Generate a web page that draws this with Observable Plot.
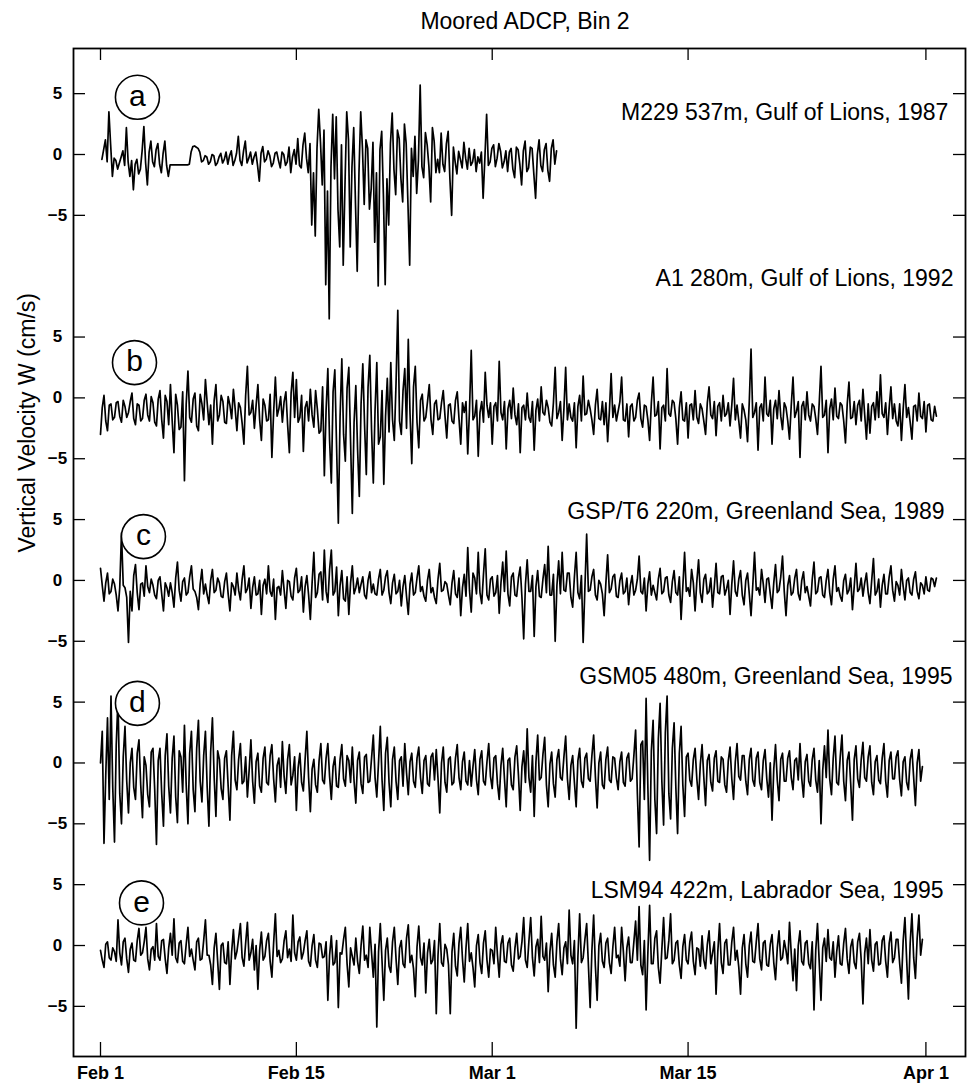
<!DOCTYPE html>
<html><head><meta charset="utf-8">
<script src="https://cdn.jsdelivr.net/npm/d3@7"></script>
<script src="https://cdn.jsdelivr.net/npm/@observablehq/plot@0.6"></script>
<style>
body{margin:0;background:#fff;font-family:"Liberation Sans",Arial,Helvetica,sans-serif;}
#title{height:37px;box-sizing:border-box;padding-top:8px;padding-left:83px;text-align:center;font-size:23px;line-height:26px;color:#000;}
#chart svg{display:block;}
</style></head><body>
<div id="title">Moored ADCP, Bin 2</div>
<div id="chart"></div>
<script>
// ---------- data ----------
const STEP = 0.125; // days between samples (3 h)
const panels = ["a", "b", "c", "d", "e"];
const stations = [
  "M229 537m, Gulf of Lions, 1987",
  "A1 280m, Gulf of Lions, 1992",
  "GSP/T6 220m, Greenland Sea, 1989",
  "GSM05 480m, Greenland Sea, 1995",
  "LSM94 422m, Labrador Sea, 1995"
];
const offsets = [65, 45, 30, 15, 0];      // vertical stacking of the panels (cm/s units)
const startDays = [0.1, 0, 0, 0, 0];      // days after Feb 1

// W (cm/s), one row = one day
const seriesA = [
  -0.4, 0.4, 1.2, -0.6, 3.5, 0.8, -1.8, -0.3,
  -0.5, -1.2, -0.7, -0.2, 0.3, -0.9, 2.2, -0.6,
  -1.8, -0.5, -2.9, -0.8, -0.4, -1.6, -1.2, 0.3,
  2.3, -0.7, -2.5, 0.2, 1.1, -0.6, -1.0, 0.4,
  0.9, -0.8, -1.5, 0.1, 1.1, -0.9, -1.8, -0.85,
  -0.85, -0.85, -0.85, -0.85, -0.85, -0.85, -0.85, -0.85,
  -0.85, -0.85, -0.8, 0.2, 0.65, 0.7, 0.6, 0.5,
  0.2, -0.6, -0.5, -0.1, -0.2, -0.8, -0.6, 0.0,
  -0.1, -0.9, -0.7, -0.2, 0.1, -0.7, -0.4, 0.2,
  -0.8, -0.1, 0.3, -0.9, -0.5, 0.1, 1.5, -0.5,
  -0.9, 0.3, 1.1, -0.7, -0.3, 0.2, -0.8, -0.2,
  0.2, -0.9, -2.2, 0.1, 0.65, -0.6, -0.4, 0.3,
  -0.1, -1.0, -0.7, 0.1, 0.2, -0.5, -1.1, 0.2,
  0.0, -0.9, -0.6, 0.6, -1.5, -0.2, 0.4, -0.8,
  1.3, -0.9, -1.1, 0.8, 1.75, -0.3, -1.5, 0.9,
  -5.8, -1.5, -6.7, 0.5, 3.7, 1.0, -2.5, 2.0,
  -10.7, -3.0, -13.5, -1.0, 3.3, -2.0, 3.1, -4.5,
  -7.6, 0.8, -9.1, -2.5, 3.5, 1.2, -7.6, -1.0,
  2.2, -4.0, -9.6, -1.5, 3.5, 0.5, -4.1, 1.2,
  0.5, -4.5, -2.8, 1.0, -7.2, -1.5, -10.8, 0.4,
  1.9, -3.5, -10.7, -2.0, -5.8, 0.9, 3.4, -1.2,
  -3.3, 2.0, 1.3, -2.0, -3.9, 2.5, 0.9, -4.0,
  -9.1, 0.5, -1.8, 1.5, -3.2, -0.5, 5.7, -1.0,
  -1.9, 1.8, 0.8, -1.0, -3.9, 2.2, 1.1, -1.5,
  -0.4, -1.5, 1.75, -0.8, -1.4, 0.9, 1.9, -2.0,
  -5.0, 0.6, -0.6, -1.6, 0.25, -0.4, -1.1, 1.0,
  -0.3, -1.2, 0.5, -0.9, -0.6, 0.4, -1.4, -0.2,
  -0.7, 0.2, -3.6, -0.3, 3.3, -0.9, -0.6, 0.5,
  0.8, -1.0, -0.3, 0.9, 0.25, -1.1, -0.6, 0.3,
  -1.4, 0.2, 0.5, -1.2, -1.9, 0.6, 0.4, -0.8,
  -2.5, 0.3, 1.1, -1.4, -1.1, 0.6, 0.5, -1.6,
  -3.6, 0.0, 1.2, -0.9, -1.4, 0.4, 0.9, -1.3,
  -2.2, 0.5, 1.2, -0.8, 0.3
];
const seriesB = [
  -3.0, -0.8, 0.2, -1.9, -2.7, -0.6, -0.5, -1.8,
  -1.6, -0.4, -0.3, -1.5, -2.0, -0.2, -0.7, -1.6,
  -1.2, -0.3, 0.4, -1.7, -2.2, -0.5, -0.6, -1.9,
  -1.7, -0.2, 0.3, -1.4, -1.9, 0.1, -0.4, -2.0,
  -2.3, -0.1, 0.6, -1.8, -3.3, 0.2, -0.3, -2.2,
  1.1, -1.9, -4.5, 0.3, -0.6, -2.6, -2.4, 0.5,
  -6.8, -0.5, 2.2, -1.6, -2.0, -0.1, 0.4, -2.3,
  -2.7, 0.3, -0.5, -1.8, 1.5, -0.4, -2.2, -0.6,
  -3.8, -0.2, 1.1, -1.9, -1.4, 0.2, -0.3, -2.0,
  -2.1, 0.1, -0.6, -1.7, 0.7, -0.9, -2.7, -0.4,
  -0.8, -2.1, -3.8, 0.2, 2.6, -1.4, -1.2, -0.2,
  -2.5, -0.6, 1.1, -1.8, -3.5, -0.1, -0.6, -1.9,
  -1.8, 0.3, -4.9, -1.2, 1.7, -1.5, -0.9, 0.1,
  -2.0, -0.3, 0.5, -2.2, -4.5, 0.4, 2.1, -1.6,
  1.5, -2.0, -1.6, 0.2, -4.4, -0.8, -0.3, -1.9,
  0.7, -1.4, -2.4, 0.6, -0.9, -2.9, -2.7, 0.9,
  -6.4, -1.0, 2.4, -3.5, -7.0, 0.5, 2.3, -4.0,
  -10.3, -1.5, 3.2, -3.0, -5.2, 0.8, 2.5, -3.6,
  -9.5, -2.0, 1.0, -4.2, -8.1, -0.5, 2.8, -2.2,
  -6.3, 0.9, 3.5, -2.6, -7.0, -1.0, 2.9, -3.8,
  -3.2, 0.6, -7.1, -1.5, 1.6, -2.8, 2.9, -1.8,
  -3.5, 1.2, 7.2, -1.9, -3.0, 0.6, 2.4, -2.5,
  4.8, -1.3, -5.4, 0.9, 2.6, -2.0, -4.1, -0.2,
  0.3, -1.9, -1.6, -0.3, 1.1, -1.8, -3.0, -0.5,
  -0.2, -1.8, -1.7, -0.4, 0.6, -1.5, -3.3, -0.6,
  -0.5, -1.9, -2.1, -0.2, 0.5, -1.7, -3.8, -0.4,
  -1.2, -0.3, -4.6, -1.0, 3.9, -1.8, -1.5, -0.2,
  -4.8, -1.2, -0.3, -2.0, 2.1, -0.6, -1.6, -0.4,
  -3.8, -0.7, -0.4, -1.9, 3.0, -1.2, -1.8, -0.3,
  -4.2, -0.9, -0.2, -1.7, 0.8, -1.4, -2.2, -0.5,
  -4.5, -0.8, -0.6, -1.8, 0.4, -1.6, -2.0, -0.3,
  -4.3, -1.0, -0.1, -1.9, 0.9, -1.2, -1.4, -0.2,
  -0.8, -2.0, -2.3, -0.4, 2.5, -1.7, -1.2, -0.3,
  -3.5, -0.9, 2.5, -1.8, -0.5, -1.6, -1.9, -0.4,
  -4.1, -0.7, 0.2, -1.9, 1.8, -1.4, -1.3, -0.2,
  -0.9, -1.8, -3.0, -0.6, 0.7, -1.7, -1.8, -0.3,
  -2.2, -0.4, -3.6, -1.1, 2.0, -1.6, -0.6, -1.9,
  -1.1, -0.3, 1.7, -1.8, -1.9, -0.5, -3.2, -0.7,
  -0.5, -1.9, -1.6, -0.2, 0.4, -1.7, -2.4, -0.6,
  -0.7, -1.8, -3.5, -0.4, 1.7, -1.5, -1.4, -0.3,
  -4.2, -0.8, -0.6, -1.9, 2.4, -1.3, -1.5, -0.2,
  -0.4, -1.7, -3.8, -0.8, 0.5, -1.8, -1.9, -0.4,
  -3.3, -0.6, -0.5, -1.8, 0.6, -1.6, -2.1, -0.5,
  -0.9, -1.9, -3.0, -0.4, 0.9, -1.4, -1.7, -0.3,
  -3.1, -0.7, -0.4, -1.9, 0.2, -1.5, -1.3, -0.4,
  -2.3, -0.6, 1.6, -1.8, -0.6, -1.9, -3.3, -0.5,
  -1.0, -1.8, -3.6, -0.3, 4.0, -1.6, -1.2, -0.4,
  -4.3, -0.8, -0.5, -1.9, 1.7, -1.3, -1.5, -0.2,
  -3.8, -0.9, -0.2, -1.7, 0.6, -1.5, -2.6, -0.4,
  -0.8, -1.9, -3.4, -0.6, 1.7, -1.6, -1.1, -0.3,
  -4.9, -0.7, -0.3, -1.8, 0.5, -1.4, -1.9, -0.5,
  -0.7, -1.7, -3.0, -0.4, 2.6, -1.6, -1.4, -0.2,
  -4.5, -0.9, -0.1, -1.8, 0.8, -1.5, -1.7, -0.4,
  -0.6, -1.9, -3.7, -0.5, 1.3, -1.7, -1.6, -0.3,
  -2.2, -0.6, -0.2, -1.9, 0.7, -1.4, -3.4, -0.5,
  -2.9, -0.7, -0.4, -1.8, 0.5, -1.6, 1.9, -1.3,
  -1.6, -0.4, -3.0, -0.8, 0.9, -1.7, -0.5, -1.9,
  -2.3, -0.5, -3.5, -0.9, 1.1, -1.6, -0.8, -2.0,
  -3.4, -0.7, -0.6, -1.9, 0.4, -1.5, -1.7, -0.3,
  -2.8, -0.6, -0.5, -1.8, -1.9, -0.7, -1.5
];
const seriesC = [
  1.0, -0.4, -1.7, -0.2, 0.6, -1.1, -0.9, 0.1,
  -0.3, -1.2, -2.5, -0.6, 3.9, -0.4, -0.6, -1.4,
  -5.1, -0.9, -2.5, 0.4, 1.3, -1.0, -2.4, -0.3,
  -0.2, -1.3, 1.2, -0.5, -1.0, 0.1, -0.4, -1.2,
  -1.5, 0.0, 0.3, -1.1, -2.5, -0.2, -0.6, -1.3,
  -0.2, -1.0, -2.2, 0.2, 1.5, -0.8, -1.7, -0.1,
  0.2, -1.2, -1.0, 0.3, 1.2, -0.7, -0.9, -1.4,
  -2.4, -0.3, 0.9, -1.1, -0.3, -1.2, -1.9, 0.0,
  0.9, -1.0, -0.8, 0.2, -0.2, -1.3, -1.4, -0.1,
  0.6, -1.1, -2.5, -0.2, -0.5, -1.2, 0.6, -0.8,
  -1.6, 0.1, 1.2, -1.0, -0.7, 0.2, -2.3, -0.6,
  0.3, -1.2, -1.1, 0.0, -2.8, -0.4, 0.1, -1.1,
  1.2, -0.9, -1.3, 0.1, -3.2, -0.6, -0.5, -1.2,
  0.8, -0.8, -2.3, 0.0, -0.1, -1.3, -1.6, 0.2,
  1.0, -1.0, -0.8, 0.3, -2.6, -0.5, 0.4, -1.2,
  -3.2, -0.2, 2.3, -1.4, -1.0, 0.5, 0.7, -1.6,
  2.5, -0.9, -1.8, 0.9, 2.5, -1.2, -0.9, 1.1,
  -2.9, -0.4, 0.8, -1.5, -1.7, 0.3, -2.8, -0.2,
  1.2, -1.1, -0.6, 0.2, -1.0, -0.3, 0.3, -1.2,
  -1.5, 0.0, 0.7, -1.0, -0.3, -1.1, -1.2, 0.1,
  0.9, -1.2, -0.8, 0.3, 0.8, -1.0, -1.9, -0.2,
  0.5, -1.1, -0.9, 0.0, -2.1, -0.5, 0.4, -1.3,
  -2.8, -0.3, 0.6, -1.2, -1.0, 0.2, 1.2, -0.9,
  -0.5, -1.3, -1.7, 0.0, 0.9, -1.0, -0.6, -1.4,
  -1.9, 0.1, 1.4, -0.9, -0.8, -0.1, -0.3, -1.2,
  -2.0, -0.2, 0.8, -1.1, -1.4, 0.2, -2.9, -0.6,
  0.5, -1.3, 2.7, -0.8, -2.6, 0.6, 0.2, -1.1,
  2.3, -1.0, -1.9, 0.5, 2.6, -1.2, -1.6, 0.1,
  0.3, -1.3, -1.0, 0.4, -2.7, -0.2, 1.5, -0.9,
  2.4, -1.1, -2.1, 0.3, 0.6, -1.2, -1.3, 0.2,
  1.1, -1.4, -4.8, -0.3, 1.7, -0.9, -0.9, 0.4,
  -4.6, -0.5, 0.8, -1.3, -1.4, 0.1, 1.3, -1.0,
  2.8, -1.2, -1.2, 0.5, -5.0, -0.4, 1.6, -1.1,
  2.3, -0.8, -0.9, 0.6, 0.6, -1.4, -2.2, 0.3,
  2.3, -1.0, -1.5, 0.4, -5.1, -0.6, 3.8, -0.9,
  -0.8, 0.3, 0.9, -1.2, -1.6, 0.0, -0.3, -1.1,
  -2.9, -0.2, 2.1, -1.0, -0.7, 0.3, 0.5, -1.3,
  -1.4, 0.0, 0.6, -1.1, -0.9, 0.2, -2.0, -0.4,
  0.4, -1.2, -0.8, 0.1, 2.0, -0.9, -1.1, 0.2,
  -2.5, -0.3, 0.7, -1.2, -0.4, -1.0, -1.6, 0.1,
  1.0, -1.1, -0.9, 0.2, 0.3, -1.2, -1.8, -0.1,
  0.8, -1.0, -1.2, 0.3, -3.2, -0.5, 2.3, -0.9,
  -0.6, -1.3, 0.9, -0.2, -2.5, -0.1, 1.7, -1.0,
  -1.8, 0.1, 0.5, -1.1, -0.9, 0.2, -2.2, -0.5,
  1.4, -1.0, -1.1, 0.3, 0.4, -1.2, -0.7, 0.0,
  -2.8, -0.3, 1.6, -0.9, -1.3, 0.1, 0.8, -1.2,
  -2.0, 0.0, 0.6, -1.1, -2.9, -0.4, 2.3, -0.8,
  -0.6, -1.2, 0.9, -0.3, -1.8, 0.1, 0.2, -1.1,
  -2.3, -0.2, 1.3, -1.0, -0.8, 0.3, 2.0, -0.9,
  -2.9, -0.4, 0.4, -1.2, -1.0, 0.2, 0.9, -1.1,
  -1.6, 0.0, 0.7, -1.0, -0.5, -1.3, -2.1, 0.1,
  1.5, -1.1, -0.9, 0.2, 0.3, -1.2, -1.4, 0.0,
  0.9, -1.0, -2.0, 0.1, 1.2, -0.9, -0.6, -1.3,
  -1.7, 0.0, 0.5, -1.1, -0.8, 0.2, -2.4, -0.5,
  1.4, -0.9, -0.7, 0.2, -1.3, -0.2, 0.6, -1.0,
  -1.9, 0.0, 1.8, -1.2, -0.9, 0.1, -2.2, -0.4,
  0.5, -1.1, -1.1, 0.3, 1.2, -0.8, -1.7, -0.1,
  -0.4, -1.2, 0.9, -0.5, -1.6, 0.0, 0.2, -1.0,
  -1.2, 0.1, 0.7, -0.9, -1.5, -0.2, -0.4, -1.1,
  0.3, -0.8, -0.9, 0.2, 0.1, -0.5, 0.2
];
const seriesD = [
  0.0, 2.6, -6.6, -1.0, 3.7, -3.0, 5.5, -2.0,
  -6.5, 1.5, 5.3, -2.5, -5.0, 0.5, 3.0, -1.5,
  -4.1, 0.0, 1.2, -2.0, -3.0, 0.8, 1.9, -1.8,
  -4.5, 0.5, -0.2, -2.6, -3.6, 0.9, 1.2, -2.2,
  -6.7, 0.2, 1.2, -2.5, -5.2, 0.6, 2.4, -1.9,
  -4.1, 0.4, 2.2, -2.8, -4.9, 1.0, 0.5, -2.4,
  3.1, -1.8, -5.0, 0.8, 2.6, -2.2, -4.0, 1.2,
  3.5, -1.5, -3.2, 0.6, 2.6, -2.0, -5.2, 0.9,
  3.7, -1.2, -4.4, 1.0, 0.3, -2.1, -3.0, 0.4,
  1.0, -1.9, -4.7, 0.6, 2.6, -1.4, -2.2, 0.3,
  1.6, -1.7, -1.5, 0.5, -2.8, -0.6, 1.9, -1.5,
  -3.3, 0.1, 0.8, -1.9, -2.4, 0.4, 1.3, -1.6,
  -1.8, 0.6, 1.5, -1.3, -3.2, -0.2, 0.4, -2.0,
  1.75, -1.1, -2.5, 0.3, 1.5, -1.8, -1.0, 0.5,
  -3.9, -0.4, 0.8, -1.6, -2.3, 0.3, 2.6, -1.2,
  -4.0, -0.5, 0.3, -1.8, -2.4, 0.2, 1.6, -1.4,
  -1.7, 0.4, 1.6, -1.1, -3.0, -0.3, 0.5, -1.9,
  -2.0, 0.3, 1.5, -1.3, -1.9, 0.6, 0.2, -1.6,
  1.3, -1.5, -3.3, 0.2, 0.9, -1.7, -2.5, 0.5,
  0.7, -1.6, -1.5, 0.4, 2.3, -1.2, -2.8, 0.1,
  3.0, -1.4, -3.9, 0.8, 2.1, -1.6, -3.6, 0.3,
  1.3, -1.5, -3.0, 0.2, 0.5, -1.9, 1.6, -0.8,
  -2.6, 0.1, 0.8, -1.5, -2.0, 0.4, 1.3, -1.2,
  -2.5, 0.2, 0.6, -1.7, -1.9, 0.5, 0.8, -1.4,
  1.1, -1.3, -4.1, 0.0, 1.3, -1.6, -2.4, 0.3,
  0.5, -1.8, -1.6, 0.4, 1.5, -1.2, -2.2, 0.1,
  0.9, -1.5, -1.8, 0.2, -1.9, -0.3, 1.1, -1.4,
  -2.6, 0.3, 1.0, -1.5, -1.8, 0.1, 1.6, -1.1,
  -2.1, 0.4, 0.6, -1.7, -3.0, -0.2, 1.2, -1.3,
  -3.6, 0.2, 0.4, -1.8, -2.2, 0.5, 1.4, -1.0,
  -3.9, -0.3, 1.0, -1.6, 2.8, -1.2, -2.4, 0.6,
  -4.4, 0.1, 2.3, -1.4, -1.2, 0.7, 2.1, -1.8,
  -3.6, -0.1, 0.9, -1.7, -2.8, 0.3, 1.1, -1.2,
  -1.4, 0.5, 2.2, -1.3, -3.0, -0.2, 0.6, -1.6,
  -3.6, 0.2, 1.2, -1.5, -2.0, 0.4, 0.8, -1.3,
  -1.5, 0.6, 2.3, -1.1, -3.7, 0.0, 0.9, -1.8,
  -2.1, 0.3, 1.3, -1.4, -1.6, 0.5, 0.4, -1.2,
  -2.2, 0.1, 0.9, -1.6, -1.9, 0.4, 0.8, -1.5,
  -1.3, 0.6, 2.7, -2.5, -6.9, 1.5, 1.8, -3.0,
  5.3, -2.0, -8.0, 1.0, 3.5, -3.0, -5.8, 2.0,
  4.9, -1.5, -5.1, 2.5, 5.5, -2.5, -4.6, 1.2,
  3.3, -2.0, -5.8, 0.8, 3.0, -1.8, -4.4, 0.5,
  0.8, -1.4, -1.9, 0.3, 1.2, -1.3, -3.0, -0.1,
  1.5, -1.2, -3.5, 0.2, 0.7, -1.6, -2.3, 0.4,
  1.0, -1.5, -1.6, 0.5, 0.3, -1.8, -2.4, 0.2,
  1.3, -1.3, -3.0, 0.1, 1.6, -1.1, -1.4, 0.6,
  0.6, -1.5, -2.6, 0.3, 1.2, -1.4, -1.9, 0.4,
  0.9, -1.6, -2.2, 0.2, 1.1, -1.3, -2.8, 0.0,
  -4.7, -0.5, 1.5, -1.4, -3.1, 0.3, 0.8, -1.5,
  -1.5, 0.4, 1.0, -1.2, -2.2, 0.2, 0.4, -1.4,
  1.6, -1.3, -2.8, 0.1, 0.7, -1.5, -1.9, 0.3,
  1.2, -1.4, -2.4, 0.2, -5.0, -0.6, 1.4, -1.2,
  2.7, -1.3, -2.6, 0.4, 2.2, -1.6, -1.8, 0.5,
  2.3, -1.5, -3.1, 0.2, 0.9, -1.7, -4.7, 0.3,
  1.4, -1.3, -2.0, 0.3, 1.7, -1.2, -1.5, 0.5,
  1.4, -1.6, -2.6, 0.1, 0.6, -1.4, -1.7, 0.4,
  1.6, -1.5, -2.8, 0.2, 0.9, -1.3, -1.3, 0.5,
  1.0, -1.4, -2.7, 0.1, 0.5, -1.6, -2.2, 0.3,
  1.1, -1.2, -3.5, 0.0, 1.1, -1.5, -0.3
];
const seriesE = [
  -0.4, -1.2, -1.8, 0.1, 0.3, -1.0, -1.2, -0.2,
  -0.5, -1.3, 2.1, -0.6, -1.6, 0.3, 0.6, -1.1,
  -2.2, -0.3, 0.2, -1.2, -1.3, 0.4, 1.4, -0.8,
  -0.6, 0.3, 1.5, -1.1, -2.0, -0.3, -0.1, -1.2,
  1.8, -0.9, -1.2, 0.4, 0.5, -1.1, -2.3, -0.2,
  1.0, -0.8, 2.2, -1.0, -1.4, 0.2, 0.4, -1.3,
  -1.5, 0.1, 1.5, -0.9, -0.3, -1.2, -2.0, 0.3,
  0.6, -1.2, -1.1, 0.4, 2.1, -0.8, -0.8, -1.6,
  -3.2, -0.2, 1.0, -1.3, -3.6, 0.0, 0.2, -1.4,
  -1.5, 0.3, -3.2, -0.5, 1.3, -1.1, -0.5, 0.6,
  1.8, -1.0, -1.7, 0.2, 1.9, -1.2, -0.6, 0.5,
  -2.0, 0.0, -3.6, -0.4, 1.1, -1.2, -0.9, 0.4,
  1.0, -1.3, -2.6, 0.2, 2.6, -0.9, -0.4, -1.4,
  -1.1, 0.4, 1.2, -1.0, -0.3, -1.3, 2.5, -0.6,
  -1.2, 0.3, 0.7, -1.1, -0.6, 0.4, 1.2, -1.3,
  -1.7, 0.0, 0.9, -1.2, -1.8, 0.2, 0.1, -1.0,
  -0.9, 0.3, -4.5, -0.8, 0.8, -1.6, -1.4, 0.4,
  -5.1, -0.6, -0.7, 0.5, 1.5, -1.5, -3.4, -0.2,
  -0.9, -1.6, 0.6, -1.3, -2.3, 0.0, 1.6, -1.2,
  -0.8, -1.8, 1.5, -0.6, -2.6, 0.1, -6.7, -0.5,
  1.8, -1.3, -4.5, -0.4, 0.6, -1.7, -2.2, 0.3,
  1.5, -1.1, -3.2, -0.2, 0.4, -1.5, -1.8, 0.6,
  1.7, -1.4, -0.8, -1.9, -4.2, -0.1, 1.6, -1.0,
  -1.6, 0.2, -3.9, -0.6, 0.5, -1.5, -1.2, 0.4,
  -5.6, -0.8, 1.8, -1.4, -1.7, 0.1, -0.3, -1.6,
  -5.6, -0.5, 1.0, -1.7, -2.5, 0.2, 1.5, -1.1,
  -3.0, -0.2, 1.8, -1.3, -0.6, -1.8, -3.4, 0.0,
  0.9, -1.4, -2.3, 0.2, 1.2, -1.2, -2.6, -0.3,
  -0.4, -1.5, 1.5, -0.8, -2.6, 0.1, 0.8, -1.3,
  -1.4, 0.2, 0.6, -1.6, -2.1, -0.2, 1.0, -1.1,
  -0.9, 0.3, 2.3, -1.2, -1.8, 0.4, 2.3, -1.0,
  -2.5, -0.1, 0.5, -1.4, 2.4, -0.9, -1.2, 0.2,
  -3.8, -0.5, 1.0, -1.6, -2.6, 0.3, 1.8, -1.1,
  -2.4, -0.2, 0.3, -1.5, 2.9, -0.8, -1.5, 0.4,
  -6.8, -0.9, 2.6, -1.4, -1.0, 0.5, 1.8, -1.6,
  -5.1, -0.4, 2.5, -1.7, -4.5, 0.0, 1.0, -1.3,
  -1.8, 0.2, 0.6, -1.4, -2.3, -0.1, 1.5, -1.0,
  -0.8, -1.7, 1.5, -0.5, -2.9, -0.2, 0.7, -1.4,
  -1.4, 0.3, 2.0, -1.2, 3.2, -1.6, -2.4, 0.4,
  -5.3, -0.6, 3.3, -1.5, -1.5, 0.6, 1.2, -1.8,
  -3.1, -0.3, 2.3, -1.1, -1.0, 0.4, 2.6, -1.5,
  -1.2, 0.2, 0.4, -1.6, -2.7, -0.1, 0.9, -1.2,
  -1.5, 0.3, 1.1, -1.3, -2.4, -0.2, -0.3, -1.7,
  0.8, -1.2, -1.9, 0.1, 1.2, -1.5, -0.6, 0.3,
  -4.0, -0.5, 1.8, -1.4, -2.3, 0.2, 0.5, -1.6,
  -1.6, 0.3, 1.5, -1.2, -0.4, -1.8, -4.0, -0.2,
  0.9, -1.5, -2.6, 0.0, 1.1, -1.3, -1.4, 0.3,
  1.8, -1.1, -2.0, 0.2, 0.4, -1.6, -1.7, 0.1,
  0.9, -1.4, -2.8, -0.2, 1.2, -1.2, -1.0, 0.4,
  -0.4, -1.5, 1.9, -0.7, -2.9, -0.3, -3.7, 0.0,
  1.2, -1.3, -1.6, 0.2, 0.4, -1.5, -1.9, 0.3,
  -5.3, -0.4, 1.8, -1.4, -4.5, -0.2, 0.6, -1.3,
  1.3, -1.0, -1.2, 0.3, -2.6, -0.5, 0.8, -1.5,
  -1.6, 0.2, 1.4, -1.1, -2.3, -0.1, 0.5, -1.4,
  -1.9, 0.3, 1.0, -1.2, -4.8, -0.6, 0.6, -1.5,
  1.3, -1.2, -2.1, 0.1, 0.3, -1.6, -1.5, 0.4,
  0.8, -1.3, -2.6, 0.2, 1.1, -1.4, -1.0, 0.5,
  0.5, -1.5, -3.1, 0.4, 2.3, -1.2, -4.4, 0.2,
  2.6, -1.0, -2.7, 0.6, 2.5, -0.8, 0.5
];

const tickLevels = [-5, 0, 5];
const dateTicks = [0, 14, 28, 42, 59];             // days after Feb 1
const dateLabels = ["Feb 1", "Feb 15", "Mar 1", "Mar 15", "Apr 1"];

// annotation anchors (day, level relative to each panel's zero)
const letterDay = [2.64, 2.43, 3.07, 2.64, 2.93];
const letterLevel = [4.7, 2.9, 3.6, 4.9, 3.5];
const stationDay = [60.6, 60.97, 60.33, 60.9, 60.26];
const stationLevel = [3.45, 9.8, 5.66, 7.1, 4.5];

// ---------- build ----------
const allSeries = [seriesA, seriesB, seriesC, seriesD, seriesE];
const rows = allSeries.flatMap((vals, k) =>
  vals.map((w, i) => ({panel: panels[k], t: startDays[k] + i * STEP, w, y: w + offsets[k]})));

const yTicks = offsets.flatMap(o => tickLevels.map(t => ({pos: o + t, label: t})));
const yLabel = new Map(yTicks.map(d => [d.pos, d.label]));
const fmt = v => v < 0 ? "\u2212" + Math.abs(v) : String(v);
const ann = panels.map((p, k) => ({
  letter: p, lx: letterDay[k], ly: letterLevel[k] + offsets[k],
  station: stations[k], sx: stationDay[k], sy: stationLevel[k] + offsets[k]
}));

const W = 967, H = 1046, mL = 73, mR = 2, mT = 11, mB = 27;
const plotW = W - mL - mR, plotH = H - mT - mB;
const FONT = "'Liberation Sans', Arial, Helvetica, sans-serif";

const chart = Plot.plot({
  width: W, height: H,
  marginLeft: mL, marginRight: mR, marginTop: mT, marginBottom: mB,
  style: {fontFamily: FONT, background: "white", color: "black", overflow: "visible"},
  x: {domain: [-1.93, 61.83]},
  y: {domain: [-9.12, 73.71]},
  marks: [
    Plot.line(rows, {x: "t", y: "y", z: "panel", stroke: "black", strokeWidth: 1.7, strokeLinejoin: "round"}),
    Plot.dot(ann, {x: "lx", y: "ly", r: 22, fill: "white", stroke: "black", strokeWidth: 1.6}),
    Plot.text(ann, {x: "lx", y: "ly", text: "letter", fontSize: 30, fill: "black", dy: -1}),
    Plot.text(ann, {x: "sx", y: "sy", text: "station", textAnchor: "end", fontSize: 23, fill: "black"}),
    Plot.tickY(yTicks.map(d => d.pos), {y: d => d, insetRight: plotW - 12, stroke: "black", strokeWidth: 1.3}),
    Plot.tickY(yTicks.map(d => d.pos), {y: d => d, insetLeft: plotW - 12, stroke: "black", strokeWidth: 1.3}),
    Plot.tickX(dateTicks, {x: d => d, insetBottom: plotH - 12, stroke: "black", strokeWidth: 1.3}),
    Plot.tickX(dateTicks, {x: d => d, insetTop: plotH - 14, stroke: "black", strokeWidth: 1.3}),
    Plot.axisY(yTicks.map(d => d.pos), {
      tickSize: 0, tickPadding: 16, textAnchor: "middle", label: null,
      tickFormat: v => fmt(yLabel.get(v)), fontSize: 17, fontWeight: "bold", fill: "black"
    }),
    Plot.axisX(dateTicks, {
      tickSize: 0, tickPadding: 17, lineAnchor: "middle", label: null,
      tickFormat: v => dateLabels[dateTicks.indexOf(v)], fontSize: 18, fontWeight: "bold", fill: "black"
    }),
    Plot.text(["Vertical Velocity W (cm/s)"], {text: d => d, frameAnchor: "left", rotate: -90, dx: -46, fontSize: 23, fill: "black"}),
    Plot.frame({stroke: "black", strokeWidth: 1.8})
  ]
});
document.getElementById("chart").appendChild(chart);
</script></body></html>
